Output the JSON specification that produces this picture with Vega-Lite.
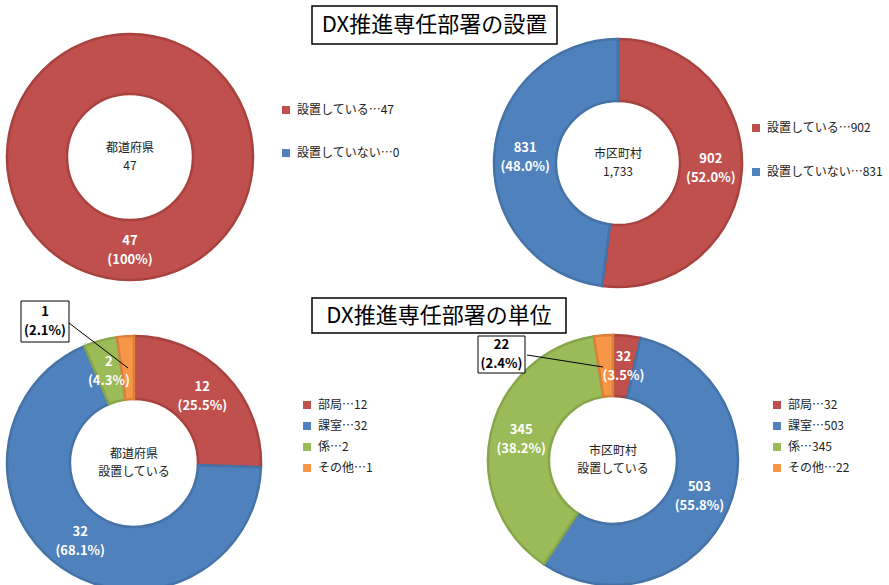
{
  "$schema": "https://vega.github.io/schema/vega-lite/v6.json",
  "padding": {"top": 3, "left": 0, "right": 0, "bottom": 0},
  "config": {"view": {"stroke": null}, "font": "Noto Sans CJK JP"},
  "datasets": {
    "pref_set": [
      {"category": "設置している", "count": 47, "legend": "設置している…47", "label": "47\n(100%)", "order": 1},
      {"category": "設置していない", "count": 0, "legend": "設置していない…0", "label": "", "order": 2}
    ],
    "muni_set": [
      {"category": "設置している", "count": 902, "legend": "設置している…902", "label": "902\n(52.0%)", "order": 1},
      {"category": "設置していない", "count": 831, "legend": "設置していない…831", "label": "831\n(48.0%)", "order": 2}
    ],
    "pref_unit": [
      {"category": "部局", "count": 12, "legend": "部局…12", "label": "12\n(25.5%)", "callout": "", "order": 1},
      {"category": "課室", "count": 32, "legend": "課室…32", "label": "32\n(68.1%)", "callout": "", "order": 2},
      {"category": "係", "count": 2, "legend": "係…2", "label": "2\n(4.3%)", "callout": "", "order": 3},
      {"category": "その他", "count": 1, "legend": "その他…1", "label": "", "callout": "1\n(2.1%)", "order": 4}
    ],
    "muni_unit": [
      {"category": "部局", "count": 32, "legend": "部局…32", "label": "32\n(3.5%)", "callout": "", "order": 1},
      {"category": "課室", "count": 503, "legend": "課室…503", "label": "503\n(55.8%)", "callout": "", "order": 2},
      {"category": "係", "count": 345, "legend": "係…345", "label": "345\n(38.2%)", "callout": "", "order": 3},
      {"category": "その他", "count": 22, "legend": "その他…22", "label": "", "callout": "22\n(2.4%)", "order": 4}
    ]
  },
  "spacing": 312,
  "bounds": "flush",
  "resolve": {"scale": {"color": "independent", "stroke": "independent", "theta": "independent"}, "legend": {"color": "independent"}},
  "hconcat": [
    {
      "spacing": 0,
      "bounds": "flush",
      "resolve": {"scale": {"color": "independent", "stroke": "independent", "theta": "independent"}, "legend": {"color": "independent"}},
      "vconcat": [
        {"width": 10, "height": 7, "data": {"values": [{}]}, "mark": {"type": "text"}, "encoding": {"text": {"value": ""}}},
        {
          "width": 260, "height": 288,
          "data": {"name": "pref_set"},
          "layer": [
            {
              "transform": [{"filter": "datum.count > 0"}],
              "mark": {"type": "arc", "outerRadius": 123, "innerRadius": 63, "strokeWidth": 2.5},
              "encoding": {
                "theta": {"field": "count", "type": "quantitative", "stack": true},
                "order": {"field": "order", "type": "quantitative"},
                "color": {"field": "legend", "type": "nominal",
                  "scale": {"domain": ["設置している…47", "設置していない…0"], "range": ["#C0504D", "#4F81BD"]},
                  "legend": {"title": null, "orient": "none", "legendX": 280, "legendY": 91, "symbolType": "square", "symbolSize": 64, "symbolStrokeWidth": 0, "labelFontSize": 12, "labelColor": "#222", "labelOffset": 5, "rowPadding": 31}},
                "stroke": {"field": "legend", "type": "nominal",
                  "scale": {"domain": ["設置している…47", "設置していない…0"], "range": ["#A8423F", "#4572A7"]}, "legend": null}
              }
            },
            {
              "mark": {"type": "text", "radius": 93, "dy": -9.5, "lineBreak": "\n", "fontSize": 13, "fontWeight": "bold", "fill": "white", "lineHeight": 19},
              "encoding": {
                "theta": {"field": "count", "type": "quantitative", "stack": true},
                "order": {"field": "order", "type": "quantitative"},
                "detail": {"field": "legend", "type": "nominal"},
                "text": {"field": "label", "type": "nominal"}
              }
            },
            {
              "data": {"values": [{"center": "都道府県\n47"}]},
              "mark": {"type": "text", "dy": -8.75, "lineBreak": "\n", "fontSize": 12, "fill": "#222", "lineHeight": 17.5},
              "encoding": {"text": {"field": "center", "type": "nominal"}}
            }
          ]
        },
        {"width": 10, "height": 41, "data": {"values": [{}]}, "mark": {"type": "text"}, "encoding": {"text": {"value": ""}}},
        {
          "width": 268, "height": 242,
          "data": {"name": "pref_unit"},
          "layer": [
            {
              "mark": {"type": "arc", "outerRadius": 127, "innerRadius": 64, "strokeWidth": 2.5},
              "encoding": {
                "theta": {"field": "count", "type": "quantitative", "stack": true},
                "order": {"field": "order", "type": "quantitative"},
                "color": {"field": "legend", "type": "nominal",
                  "scale": {"domain": ["部局…12", "課室…32", "係…2", "その他…1"], "range": ["#C0504D", "#4F81BD", "#9BBB59", "#F79646"]},
                  "legend": {"title": null, "orient": "none", "legendX": 301, "legendY": 57, "symbolType": "square", "symbolSize": 64, "symbolStrokeWidth": 0, "labelFontSize": 12, "labelColor": "#222", "labelOffset": 5, "rowPadding": 9}},
                "stroke": {"field": "legend", "type": "nominal",
                  "scale": {"domain": ["部局…12", "課室…32", "係…2", "その他…1"], "range": ["#A8423F", "#4572A7", "#87A64A", "#D9803A"]}, "legend": null}
              }
            },
            {
              "mark": {"type": "text", "radius": 95, "dy": -9.5, "lineBreak": "\n", "fontSize": 13, "fontWeight": "bold", "fill": "white", "lineHeight": 19},
              "encoding": {
                "theta": {"field": "count", "type": "quantitative", "stack": true},
                "order": {"field": "order", "type": "quantitative"},
                "detail": {"field": "legend", "type": "nominal"},
                "text": {"field": "label", "type": "nominal"}
              }
            },
            {
              "data": {"values": [{"center": "都道府県\n設置している"}]},
              "mark": {"type": "text", "dy": -8.75, "lineBreak": "\n", "fontSize": 12, "fill": "#222", "lineHeight": 17.5},
              "encoding": {"text": {"field": "center", "type": "nominal"}}
            },
            {
              "transform": [{"filter": "datum.callout != ''"}],
              "mark": {"type": "point", "shape": "M-1.13,-1.62H-0.65V-1.21H-1.13Z M-0.65,-1.40L-0.06,-0.95", "size": 40000, "filled": true, "fill": "white", "stroke": "black", "strokeWidth": 1, "opacity": 1},
              "encoding": {}
            },
            {
              "transform": [{"filter": "datum.callout != ''"}],
              "mark": {"type": "text", "dx": -89, "dy": -151, "lineBreak": "\n", "fontSize": 13, "fontWeight": "bold", "fill": "black", "lineHeight": 19},
              "encoding": {"text": {"field": "callout", "type": "nominal"}}
            }
          ]
        }
      ]
    },
    {
      "spacing": 0,
      "bounds": "flush",
      "resolve": {"scale": {"color": "independent", "stroke": "independent", "theta": "independent"}, "legend": {"color": "independent"}},
      "vconcat": [
        {
          "width": 245, "height": 38,
          "view": {"stroke": "black", "strokeWidth": 1.5, "fill": "white"},
          "data": {"values": [{"title": "DX推進専任部署の設置"}]},
          "mark": {"type": "text", "fontSize": 22, "fill": "black"},
          "encoding": {"text": {"field": "title", "type": "nominal"}}
        },
        {
          "width": 612, "height": 238,
          "data": {"name": "muni_set"},
          "layer": [
            {
              "mark": {"type": "arc", "outerRadius": 124, "innerRadius": 62, "strokeWidth": 2.5},
              "encoding": {
                "theta": {"field": "count", "type": "quantitative", "stack": true},
                "order": {"field": "order", "type": "quantitative"},
                "color": {"field": "legend", "type": "nominal",
                  "scale": {"domain": ["設置している…902", "設置していない…831"], "range": ["#C0504D", "#4F81BD"]},
                  "legend": {"title": null, "orient": "none", "legendX": 438, "legendY": 78, "symbolType": "square", "symbolSize": 64, "symbolStrokeWidth": 0, "labelFontSize": 12, "labelColor": "#222", "labelOffset": 5, "rowPadding": 32}},
                "stroke": {"field": "legend", "type": "nominal",
                  "scale": {"domain": ["設置している…902", "設置していない…831"], "range": ["#A8423F", "#4572A7"]}, "legend": null}
              }
            },
            {
              "mark": {"type": "text", "radius": 93, "dy": -9.5, "lineBreak": "\n", "fontSize": 13, "fontWeight": "bold", "fill": "white", "lineHeight": 19},
              "encoding": {
                "theta": {"field": "count", "type": "quantitative", "stack": true},
                "order": {"field": "order", "type": "quantitative"},
                "detail": {"field": "legend", "type": "nominal"},
                "text": {"field": "label", "type": "nominal"}
              }
            },
            {
              "data": {"values": [{"center": "市区町村\n1,733"}]},
              "mark": {"type": "text", "dy": -8.75, "lineBreak": "\n", "fontSize": 12, "fill": "#222", "lineHeight": 17.5},
              "encoding": {"text": {"field": "center", "type": "nominal"}}
            }
          ]
        },
        {"width": 10, "height": 16, "data": {"values": [{}]}, "mark": {"type": "text"}, "encoding": {"text": {"value": ""}}},
        {
          "width": 254, "height": 35,
          "view": {"stroke": "black", "strokeWidth": 1.5, "fill": "white"},
          "data": {"values": [{"title": "DX推進専任部署の単位"}]},
          "mark": {"type": "text", "fontSize": 22, "fill": "black"},
          "encoding": {"text": {"field": "title", "type": "nominal"}}
        },
        {
          "width": 602, "height": 254,
          "data": {"name": "muni_unit"},
          "layer": [
            {
              "mark": {"type": "arc", "outerRadius": 125, "innerRadius": 64, "strokeWidth": 2.5},
              "encoding": {
                "theta": {"field": "count", "type": "quantitative", "stack": true},
                "order": {"field": "order", "type": "quantitative"},
                "color": {"field": "legend", "type": "nominal",
                  "scale": {"domain": ["部局…32", "課室…503", "係…345", "その他…22"], "range": ["#C0504D", "#4F81BD", "#9BBB59", "#F79646"]},
                  "legend": {"title": null, "orient": "none", "legendX": 459, "legendY": 66, "symbolType": "square", "symbolSize": 64, "symbolStrokeWidth": 0, "labelFontSize": 12, "labelColor": "#222", "labelOffset": 5, "rowPadding": 9}},
                "stroke": {"field": "legend", "type": "nominal",
                  "scale": {"domain": ["部局…32", "課室…503", "係…345", "その他…22"], "range": ["#A8423F", "#4572A7", "#87A64A", "#D9803A"]}, "legend": null}
              }
            },
            {
              "mark": {"type": "text", "radius": 94, "dy": -9.5, "lineBreak": "\n", "fontSize": 13, "fontWeight": "bold", "fill": "white", "lineHeight": 19},
              "encoding": {
                "theta": {"field": "count", "type": "quantitative", "stack": true},
                "order": {"field": "order", "type": "quantitative"},
                "detail": {"field": "legend", "type": "nominal"},
                "text": {"field": "label", "type": "nominal"}
              }
            },
            {
              "data": {"values": [{"center": "市区町村\n設置している"}]},
              "mark": {"type": "text", "dy": -8.75, "lineBreak": "\n", "fontSize": 12, "fill": "#222", "lineHeight": 17.5},
              "encoding": {"text": {"field": "center", "type": "nominal"}}
            },
            {
              "transform": [{"filter": "datum.callout != ''"}],
              "mark": {"type": "point", "shape": "M-1.35,-1.24H-0.88V-0.87H-1.35Z M-0.86,-1.05L-0.10,-0.93", "size": 40000, "filled": true, "fill": "white", "stroke": "black", "strokeWidth": 1, "opacity": 1},
              "encoding": {}
            },
            {
              "transform": [{"filter": "datum.callout != ''"}],
              "mark": {"type": "text", "dx": -111.5, "dy": -115, "lineBreak": "\n", "fontSize": 13, "fontWeight": "bold", "fill": "black", "lineHeight": 19},
              "encoding": {"text": {"field": "callout", "type": "nominal"}}
            }
          ]
        }
      ]
    }
  ]
}
